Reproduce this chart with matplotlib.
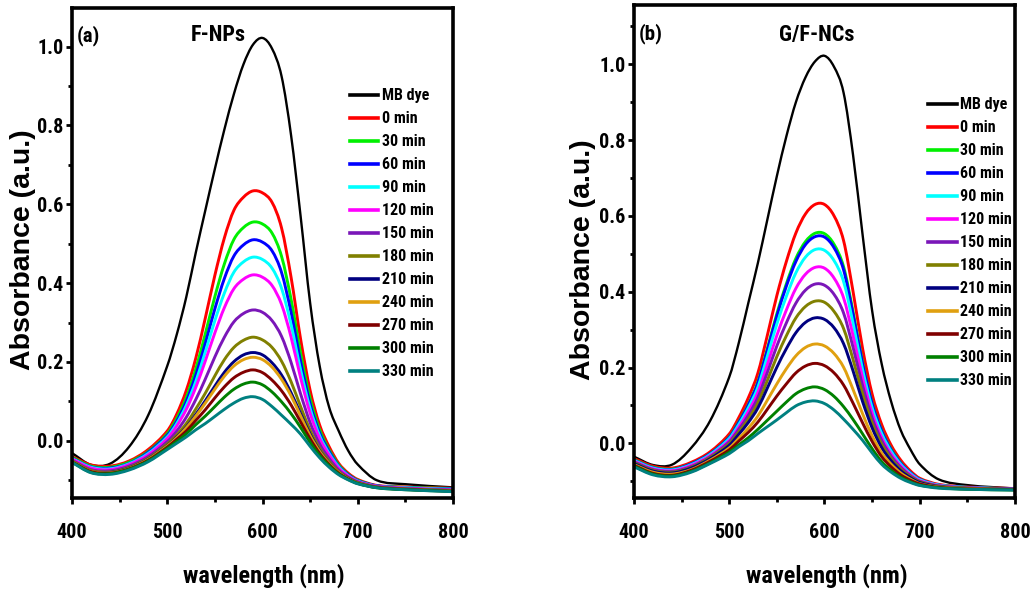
import matplotlib
matplotlib.use("Agg")
import matplotlib.pyplot as plt
from matplotlib import font_manager
from matplotlib.ticker import MultipleLocator, FormatStrFormatter
from matplotlib.path import Path
from matplotlib.patches import PathPatch
from matplotlib.lines import Line2D

# ---------------- fonts ----------------
def has_static_bold(name):
    for f in font_manager.fontManager.ttflist:
        if f.name == name and f.style == "normal" and "[" not in f.fname:
            w = f.weight
            if w in (700, "bold"):
                return True
    return False

NARROW = "Liberation Sans"
for cand in ["Liberation Sans Narrow", "Arial Narrow", "Roboto Condensed", "Pragati Narrow",
             "PT Sans Narrow", "IBM Plex Sans Condensed", "Barlow Semi Condensed",
             "Asap Condensed"]:
    if has_static_bold(cand):
        NARROW = cand
        break
WIDE = "Liberation Sans"

# ---------------- data ----------------
wavelength = [400, 420, 440, 460, 480, 500, 510, 520, 530, 540, 550, 560, 570, 580, 590,
              600, 610, 620, 630, 640, 650, 660, 670, 680, 690, 700, 720, 750, 800]

series_labels = ["MB dye", "0 min", "30 min", "60 min", "90 min", "120 min", "150 min",
                 "180 min", "210 min", "240 min", "270 min", "300 min", "330 min"]
series_colors = ["#000000", "#FF0000", "#00F000", "#0000FF", "#00FFFF", "#FF00FF", "#7A16B8",
                 "#808000", "#000080", "#E0A010", "#800000", "#008000", "#008080"]

# (a) F-NPs
fnp_mb = [-0.031, -0.061, -0.058, -0.015, 0.065, 0.190, 0.270, 0.365, 0.478, 0.585, 0.690, 0.790,
          0.880, 0.955, 1.005, 1.022, 0.995, 0.925, 0.775, 0.570, 0.350, 0.190, 0.085, 0.025,
          -0.025, -0.060, -0.100, -0.110, -0.118]
fnp_0 = [-0.040, -0.061, -0.064, -0.051, -0.022, 0.025, 0.068, 0.128, 0.210, 0.312, 0.420, 0.515,
         0.585, 0.618, 0.634, 0.629, 0.605, 0.540, 0.415, 0.258, 0.128, 0.040, -0.015, -0.057,
         -0.082, -0.098, -0.113, -0.117, -0.120]
fnp_30 = [-0.042, -0.064, -0.067, -0.054, -0.027, 0.018, 0.057, 0.110, 0.183, 0.272, 0.366, 0.449,
          0.511, 0.541, 0.555, 0.550, 0.527, 0.468, 0.359, 0.222, 0.107, 0.028, -0.023, -0.061,
          -0.085, -0.100, -0.114, -0.118, -0.121]
fnp_60 = [-0.044, -0.066, -0.069, -0.057, -0.029, 0.014, 0.050, 0.100, 0.167, 0.248, 0.335, 0.412,
          0.469, 0.497, 0.510, 0.504, 0.482, 0.427, 0.326, 0.201, 0.094, 0.020, -0.027, -0.064,
          -0.086, -0.101, -0.114, -0.119, -0.122]
fnp_90 = [-0.045, -0.067, -0.071, -0.058, -0.032, 0.010, 0.044, 0.090, 0.151, 0.226, 0.305, 0.375,
          0.428, 0.454, 0.466, 0.460, 0.438, 0.387, 0.295, 0.180, 0.082, 0.013, -0.032, -0.066,
          -0.088, -0.102, -0.115, -0.119, -0.123]
fnp_120 = [-0.046, -0.069, -0.073, -0.060, -0.035, 0.006, 0.038, 0.080, 0.136, 0.203, 0.274, 0.338,
           0.386, 0.410, 0.421, 0.415, 0.394, 0.346, 0.263, 0.160, 0.070, 0.006, -0.036, -0.069,
           -0.089, -0.103, -0.115, -0.120, -0.124]
fnp_150 = [-0.049, -0.073, -0.076, -0.064, -0.040, -0.002, 0.025, 0.060, 0.105, 0.157, 0.213, 0.263,
           0.302, 0.323, 0.332, 0.326, 0.305, 0.265, 0.199, 0.119, 0.046, -0.008, -0.045, -0.074,
           -0.092, -0.104, -0.116, -0.121, -0.125]
fnp_180 = [-0.051, -0.075, -0.079, -0.067, -0.044, -0.008, 0.015, 0.044, 0.081, 0.121, 0.165, 0.206,
           0.237, 0.255, 0.263, 0.256, 0.237, 0.202, 0.150, 0.087, 0.027, -0.019, -0.052, -0.078,
           -0.094, -0.106, -0.117, -0.122, -0.126]
fnp_210 = [-0.052, -0.077, -0.080, -0.069, -0.046, -0.012, 0.010, 0.035, 0.067, 0.102, 0.139, 0.174,
           0.201, 0.218, 0.224, 0.218, 0.198, 0.167, 0.122, 0.069, 0.017, -0.025, -0.056, -0.080,
           -0.095, -0.107, -0.118, -0.123, -0.127]
fnp_240 = [-0.052, -0.077, -0.081, -0.070, -0.047, -0.013, 0.008, 0.033, 0.063, 0.096, 0.131, 0.164,
           0.190, 0.206, 0.212, 0.206, 0.187, 0.156, 0.114, 0.063, 0.013, -0.027, -0.057, -0.080,
           -0.096, -0.107, -0.118, -0.123, -0.127]
fnp_270 = [-0.053, -0.078, -0.082, -0.071, -0.049, -0.016, 0.004, 0.025, 0.052, 0.079, 0.109, 0.137,
           0.160, 0.174, 0.180, 0.173, 0.154, 0.127, 0.091, 0.048, 0.005, -0.032, -0.060, -0.082,
           -0.097, -0.108, -0.118, -0.123, -0.128]
fnp_300 = [-0.054, -0.080, -0.083, -0.072, -0.051, -0.019, -0.001, 0.018, 0.041, 0.063, 0.087, 0.111,
           0.131, 0.144, 0.149, 0.142, 0.124, 0.099, 0.069, 0.034, -0.004, -0.037, -0.063, -0.084,
           -0.098, -0.108, -0.119, -0.124, -0.128]
fnp_330 = [-0.055, -0.081, -0.085, -0.074, -0.053, -0.022, -0.006, 0.010, 0.028, 0.044, 0.062, 0.080,
           0.096, 0.108, 0.112, 0.105, 0.087, 0.065, 0.042, 0.017, -0.014, -0.043, -0.067, -0.086,
           -0.099, -0.109, -0.119, -0.124, -0.129]

# (b) G/F-NCs
gf_mb = [-0.035, -0.057, -0.056, -0.012, 0.060, 0.175, 0.265, 0.370, 0.475, 0.590, 0.705, 0.810,
         0.900, 0.965, 1.007, 1.022, 0.993, 0.925, 0.760, 0.550, 0.350, 0.210, 0.110, 0.035,
         -0.015, -0.055, -0.095, -0.110, -0.119]
gf_0 = [-0.040, -0.060, -0.065, -0.050, -0.022, 0.025, 0.068, 0.120, 0.185, 0.285, 0.390, 0.480,
        0.555, 0.605, 0.630, 0.630, 0.600, 0.535, 0.400, 0.250, 0.130, 0.050, -0.005, -0.044,
        -0.072, -0.092, -0.108, -0.115, -0.119]
gf_30 = [-0.043, -0.063, -0.068, -0.054, -0.027, 0.017, 0.057, 0.103, 0.162, 0.250, 0.342, 0.421,
         0.488, 0.532, 0.554, 0.553, 0.525, 0.466, 0.347, 0.214, 0.107, 0.035, -0.015, -0.051,
         -0.077, -0.095, -0.110, -0.116, -0.120]
gf_60 = [-0.044, -0.064, -0.069, -0.054, -0.027, 0.016, 0.055, 0.101, 0.159, 0.246, 0.336, 0.415,
         0.480, 0.524, 0.545, 0.544, 0.516, 0.458, 0.340, 0.210, 0.105, 0.033, -0.017, -0.052,
         -0.077, -0.095, -0.110, -0.116, -0.120]
gf_90 = [-0.045, -0.065, -0.070, -0.056, -0.029, 0.013, 0.050, 0.094, 0.148, 0.230, 0.315, 0.388,
         0.450, 0.491, 0.511, 0.509, 0.482, 0.427, 0.317, 0.194, 0.094, 0.026, -0.021, -0.055,
         -0.079, -0.096, -0.110, -0.116, -0.120]
gf_120 = [-0.047, -0.067, -0.072, -0.058, -0.032, 0.008, 0.043, 0.084, 0.134, 0.208, 0.285, 0.352,
          0.409, 0.446, 0.464, 0.462, 0.436, 0.384, 0.284, 0.173, 0.080, 0.016, -0.028, -0.059,
          -0.082, -0.098, -0.111, -0.117, -0.120]
gf_150 = [-0.049, -0.069, -0.074, -0.061, -0.035, 0.004, 0.037, 0.074, 0.121, 0.187, 0.257, 0.318,
          0.370, 0.404, 0.420, 0.417, 0.393, 0.344, 0.253, 0.152, 0.067, 0.008, -0.034, -0.063,
          -0.085, -0.100, -0.112, -0.117, -0.121]
gf_180 = [-0.051, -0.071, -0.076, -0.063, -0.037, -0.001, 0.030, 0.064, 0.107, 0.166, 0.229, 0.284,
          0.331, 0.361, 0.375, 0.372, 0.348, 0.303, 0.221, 0.131, 0.054, -0.002, -0.040, -0.068,
          -0.087, -0.101, -0.113, -0.118, -0.121]
gf_210 = [-0.053, -0.073, -0.078, -0.065, -0.040, -0.005, 0.024, 0.055, 0.093, 0.146, 0.201, 0.250,
          0.292, 0.319, 0.331, 0.327, 0.305, 0.263, 0.191, 0.110, 0.041, -0.011, -0.046, -0.072,
          -0.090, -0.103, -0.114, -0.119, -0.121]
gf_240 = [-0.056, -0.076, -0.081, -0.069, -0.044, -0.012, 0.013, 0.040, 0.072, 0.114, 0.157, 0.197,
          0.231, 0.253, 0.262, 0.257, 0.237, 0.201, 0.142, 0.078, 0.020, -0.025, -0.055, -0.078,
          -0.094, -0.106, -0.115, -0.119, -0.122]
gf_270 = [-0.058, -0.079, -0.084, -0.071, -0.047, -0.017, 0.006, 0.029, 0.056, 0.090, 0.125, 0.157,
          0.186, 0.204, 0.211, 0.205, 0.186, 0.154, 0.106, 0.054, 0.005, -0.035, -0.062, -0.083,
          -0.097, -0.107, -0.116, -0.120, -0.122]
gf_300 = [-0.060, -0.081, -0.086, -0.074, -0.051, -0.023, -0.004, 0.015, 0.037, 0.061, 0.085, 0.109,
          0.131, 0.144, 0.149, 0.142, 0.124, 0.097, 0.063, 0.025, -0.014, -0.048, -0.071, -0.089,
          -0.101, -0.110, -0.117, -0.121, -0.123]
gf_330 = [-0.062, -0.083, -0.088, -0.076, -0.053, -0.027, -0.009, 0.007, 0.026, 0.044, 0.062, 0.081,
          0.099, 0.109, 0.112, 0.105, 0.088, 0.064, 0.037, 0.008, -0.025, -0.055, -0.076, -0.092,
          -0.103, -0.111, -0.118, -0.121, -0.123]

panel_a = [fnp_mb, fnp_0, fnp_30, fnp_60, fnp_90, fnp_120, fnp_150, fnp_180, fnp_210,
           fnp_240, fnp_270, fnp_300, fnp_330]
panel_b = [gf_mb, gf_0, gf_30, gf_60, gf_90, gf_120, gf_150, gf_180, gf_210,
           gf_240, gf_270, gf_300, gf_330]


def smooth_line_path(x, y):
    """Connect the data points with a smooth (Hermite/Bezier) line, like Origin's spline line."""
    n = len(x)
    slopes = []
    for i in range(n):
        if i == 0:
            slopes.append((y[1] - y[0]) / (x[1] - x[0]))
        elif i == n - 1:
            slopes.append((y[-1] - y[-2]) / (x[-1] - x[-2]))
        else:
            slopes.append((y[i + 1] - y[i - 1]) / (x[i + 1] - x[i - 1]))
    verts = [(x[0], y[0])]
    codes = [Path.MOVETO]
    for i in range(n - 1):
        h = x[i + 1] - x[i]
        verts += [(x[i] + h / 3, y[i] + slopes[i] * h / 3),
                  (x[i + 1] - h / 3, y[i + 1] - slopes[i + 1] * h / 3),
                  (x[i + 1], y[i + 1])]
        codes += [Path.CURVE4] * 3
    return Path(verts, codes)


# ---------------- figure ----------------
W, H = 1031, 592
fig = plt.figure(figsize=(W / 100, H / 100), dpi=100)

ax1 = fig.add_axes([72 / W, 1 - 498 / H, 381 / W, 490 / H])
ax2 = fig.add_axes([634 / W, 1 - 498 / H, 381 / W, 493 / H])


def style(ax, ylim, data, leg_anchor):
    handles = []
    for i, ys in enumerate(data):
        lw = 1.7 if i == 0 else 2.1
        patch = PathPatch(smooth_line_path(wavelength, ys), facecolor="none",
                          edgecolor=series_colors[i], lw=lw, capstyle="round",
                          joinstyle="round", transform=ax.transData)
        ax.add_patch(patch)
        handles.append(Line2D([], [], color=series_colors[i], lw=2.6,
                              label=series_labels[i]))
    ax.set_xlim(400, 800)
    ax.set_ylim(*ylim)
    ax.xaxis.set_major_locator(MultipleLocator(100))
    ax.xaxis.set_minor_locator(MultipleLocator(50))
    ax.yaxis.set_major_locator(MultipleLocator(0.2))
    ax.yaxis.set_minor_locator(MultipleLocator(0.1))
    ax.yaxis.set_major_formatter(FormatStrFormatter("%.1f"))
    ax.xaxis.set_major_formatter(FormatStrFormatter("%d"))
    for s in ax.spines.values():
        s.set_linewidth(2.6)
    ax.tick_params(axis="both", which="major", direction="out", length=4.5, width=2.0,
                   labelsize=14.5)
    ax.tick_params(axis="both", which="minor", direction="out", length=3, width=2.0)
    ax.tick_params(axis="x", which="major", pad=13.5)
    ax.tick_params(axis="y", which="major", pad=1.5)
    for lab in ax.get_xticklabels() + ax.get_yticklabels():
        lab.set_fontfamily(NARROW)
        lab.set_fontweight("bold")
    ax.legend(handles=handles, loc="upper left", bbox_to_anchor=leg_anchor, frameon=False,
              prop={"family": NARROW, "weight": "bold", "size": 11.5},
              handlelength=1.8, handletextpad=0.25, labelspacing=0.50,
              borderpad=0, borderaxespad=0)


style(ax1, (-0.145, 1.098), panel_a, (0.729, 0.836))
style(ax2, (-0.144, 1.156), panel_b, (0.771, 0.8125))

# texts
fig.text(77 / W, 1 - 36 / H, "(a)", family=NARROW, weight="bold", fontsize=15,
         ha="left", va="center")
fig.text(218 / W, 1 - 35 / H, "F-NPs", family=NARROW, weight="bold", fontsize=16,
         ha="center", va="center")
fig.text(639 / W, 1 - 34 / H, "(b)", family=NARROW, weight="bold", fontsize=15,
         ha="left", va="center")
fig.text(817 / W, 1 - 34.5 / H, "G/F-NCs", family=NARROW, weight="bold", fontsize=16,
         ha="center", va="center")

fig.text(23 / W, 1 - 250 / H, "Absorbance (a.u.)", family=WIDE, weight="bold", fontsize=20.5,
         rotation=90, ha="center", va="center")
fig.text(583 / W, 1 - 260 / H, "Absorbance (a.u.)", family=WIDE, weight="bold", fontsize=20.5,
         rotation=90, ha="center", va="center")
fig.text(264 / W, 1 - 583 / H, "wavelength (nm)", family=NARROW, weight="bold", fontsize=17.5,
         ha="center", va="baseline")
fig.text(827 / W, 1 - 583 / H, "wavelength (nm)", family=NARROW, weight="bold", fontsize=17.5,
         ha="center", va="baseline")

fig.savefig("out.png", dpi=100)
